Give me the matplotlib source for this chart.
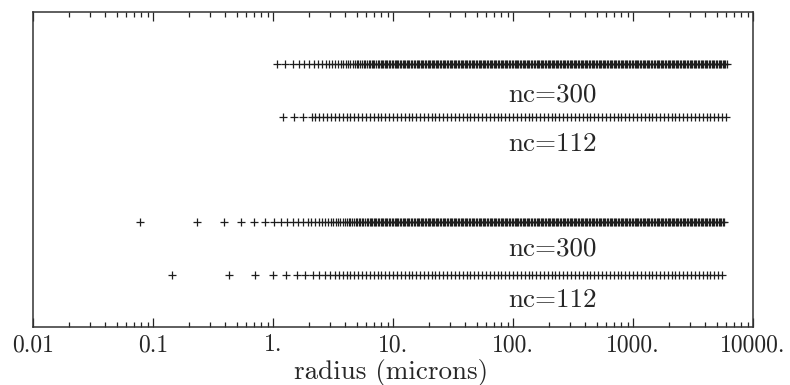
import matplotlib
matplotlib.use("Agg")
import matplotlib.pyplot as plt
from matplotlib.ticker import FixedLocator, FixedFormatter, NullFormatter

plt.rcParams['axes.unicode_minus'] = False

# ---------------- data (radii in microns) ----------------
# dense grid (nc=300) per decade
dense_10s = [10.0, 10.3, 10.5, 10.8, 11.1, 11.4, 11.7, 12.0, 12.4, 12.7, 13.0, 13.4, 13.7, 14.1,
             14.5, 14.9, 15.3, 15.7, 16.1, 16.5, 17.0, 17.4, 17.9, 18.4, 18.9, 19.4, 19.9, 20.4,
             21.0, 21.5, 22.1, 22.7, 23.3, 23.9, 24.6, 25.2, 25.9, 26.6, 27.3, 28.1, 28.8, 29.6,
             30.4, 31.2, 32.0, 32.9, 33.8, 34.7, 35.6, 36.6, 37.5, 38.6, 39.6, 40.6, 41.7, 42.9,
             44.0, 45.2, 46.4, 47.7, 48.9, 50.2, 51.6, 53.0, 54.4, 55.9, 57.4, 58.9, 60.5, 62.1,
             63.8, 65.5, 67.2, 69.0, 70.9, 72.8, 74.7, 76.7, 78.8, 80.9, 83.1, 85.3, 87.6, 89.9,
             92.3, 94.8, 97.3]
dense_100s = [100, 103, 105, 108, 111, 114, 117, 120, 124, 127, 130, 134, 137, 141, 145, 149,
              153, 157, 161, 165, 170, 174, 179, 184, 189, 194, 199, 204, 210, 215, 221, 227,
              233, 239, 246, 252, 259, 266, 273, 281, 288, 296, 304, 312, 320, 329, 338, 347,
              356, 366, 375, 386, 396, 406, 417, 429, 440, 452, 464, 477, 489, 502, 516, 530,
              544, 559, 574, 589, 605, 621, 638, 655, 672, 690, 709, 728, 747, 767, 788, 809,
              831, 853, 876, 899, 923, 948, 973]
dense_1000s = [1000, 1030, 1050, 1080, 1110, 1140, 1170, 1200, 1240, 1270, 1300, 1340, 1370,
               1410, 1450, 1490, 1530, 1570, 1610, 1650, 1700, 1740, 1790, 1840, 1890, 1940,
               1990, 2040, 2100, 2150, 2210, 2270, 2330, 2390, 2460, 2520, 2590, 2660, 2730,
               2810, 2880, 2960, 3040, 3120, 3200, 3290, 3380, 3470, 3560, 3660, 3750, 3860,
               3960, 4060, 4170, 4290, 4400, 4520, 4640, 4770, 4890, 5020, 5160, 5300, 5440,
               5590, 5740, 5890, 6050]

# coarse grid (nc=112) per decade
coarse_1s = [2.10, 2.26, 2.44, 2.63, 2.83, 3.05, 3.28, 3.53, 3.81, 4.10, 4.42, 4.76, 5.12,
             5.52, 5.95, 6.40, 6.90, 7.43, 8.00, 8.62, 9.28]
coarse_10s = [10.0, 10.8, 11.6, 12.5, 13.5, 14.5, 15.6, 16.8, 18.1, 19.5, 21.0, 22.6, 24.4,
              26.3, 28.3, 30.5, 32.8, 35.3, 38.1, 41.0, 44.2, 47.6, 51.2, 55.2, 59.5, 64.0,
              69.0, 74.3, 80.0, 86.2, 92.8]
coarse_100s = [100, 108, 116, 125, 135, 145, 156, 168, 181, 195, 210, 226, 244, 263, 283,
               305, 328, 353, 381, 410, 442, 476, 512, 552, 595, 640, 690, 743, 800, 862, 928]
coarse_1000s = [1000, 1080, 1160, 1250, 1350, 1450, 1560, 1680, 1810, 1950, 2100, 2260, 2440,
                2630, 2830, 3050, 3280, 3530, 3810, 4100, 4420, 4760, 5120, 5520, 5950]

# row 1: nc=300, upper set
r300_upper_head = [1.085, 1.27, 1.455, 1.64, 1.825, 2.01, 2.195, 2.38, 2.565, 2.75, 2.935,
                   3.12, 3.305, 3.49, 3.675, 3.86, 4.045, 4.23, 4.415, 4.6, 4.785, 4.97,
                   5.155, 5.34, 5.525, 5.71, 5.895, 6.08, 6.265, 6.45, 6.635, 6.82, 7.005,
                   7.28, 7.47, 7.67, 7.88, 8.09, 8.31, 8.53, 8.76, 8.99, 9.23, 9.48, 9.73]
r300_upper = r300_upper_head + dense_10s + dense_100s + dense_1000s

# row 2: nc=112, upper set
r112_upper_head = [1.21, 1.50, 1.78]
r112_upper = r112_upper_head + coarse_1s + coarse_10s + coarse_100s + coarse_1000s

# row 3: nc=300, lower set
r300_lower_head = [0.078, 0.233, 0.388, 0.543, 0.698, 0.853, 1.01, 1.16, 1.32, 1.47, 1.63,
                   1.78, 1.94, 2.09, 2.25, 2.40, 2.56, 2.71, 2.87, 3.02, 3.18, 3.33, 3.49,
                   3.64, 3.80, 3.95, 4.11, 4.26, 4.42, 4.57, 4.73, 4.88, 5.04, 5.19, 5.35,
                   5.50, 5.66, 5.81, 6.05, 6.21, 6.38, 6.55, 6.72, 6.90, 7.09, 7.28, 7.47,
                   7.67, 7.88, 8.09, 8.31, 8.53, 8.76, 8.99, 9.23, 9.48, 9.73]
r300_lower = r300_lower_head + dense_10s + dense_100s + dense_1000s[:67]

# row 4: nc=112, lower set
r112_lower_head = [0.143, 0.428, 0.713, 0.998, 1.28, 1.57, 1.85, 2.14, 2.42, 2.71, 2.99,
                   3.28, 3.56, 3.81, 4.10, 4.42, 4.76, 5.12, 5.52, 5.95, 6.40, 6.90, 7.43,
                   8.00, 8.62, 9.28]
r112_lower = r112_lower_head + coarse_10s + coarse_100s + coarse_1000s[:24]

rows = [r300_upper, r112_upper, r300_lower, r112_lower]
row_labels = ["nc=300", "nc=112", "nc=300", "nc=112"]

tick_values = [0.01, 0.1, 1, 10, 100, 1000, 10000]
tick_labels = ["0.01", "0.1", "1.", "10.", "100.", "1000.", "10000."]
x_label = "radius (microns)"

# ---------------- figure ----------------
FONT = "cmr10"
fig = plt.figure(figsize=(7.9, 3.85), dpi=100)
ax = fig.add_axes([33 / 790, 1 - 327 / 385, 720 / 790, 315 / 385])

row_y = [4, 3, 1, 0]
label_y = [3.43, 2.49, 0.49, -0.49]
ink = "#1e1e1e"
for vals, y, lab, ly in zip(rows, row_y, row_labels, label_y):
    ax.plot(vals, [y] * len(vals), linestyle="none", marker="+", markersize=6.2,
            markeredgewidth=0.9, color=ink)
    ax.text(215, ly, lab, ha="center", va="center", fontsize=19.5, family=FONT,
            color="#262626")

ax.set_xscale("log")
ax.set_xlim(0.01, 10000)
ax.set_ylim(-1, 5)
ax.set_yticks([])

ax.xaxis.set_major_locator(FixedLocator(tick_values))
ax.xaxis.set_major_formatter(FixedFormatter(tick_labels))
ax.xaxis.set_minor_formatter(NullFormatter())
ax.tick_params(axis="x", which="both", direction="in", top=True, bottom=True,
               color="#222", width=0.9)
ax.tick_params(axis="x", which="major", length=6.5, pad=5, labelsize=17)
ax.tick_params(axis="x", which="minor", length=3.8)
for lbl in ax.get_xticklabels():
    lbl.set_family(FONT)
    lbl.set_color("#262626")

fig.text(391.5 / 790, 1 - 372 / 385, x_label, ha="center", va="center", fontsize=19.5,
         family=FONT, color="#262626")

for sp in ax.spines.values():
    sp.set_linewidth(1.1)
    sp.set_color("#333")

fig.savefig("out.png", dpi=100)
